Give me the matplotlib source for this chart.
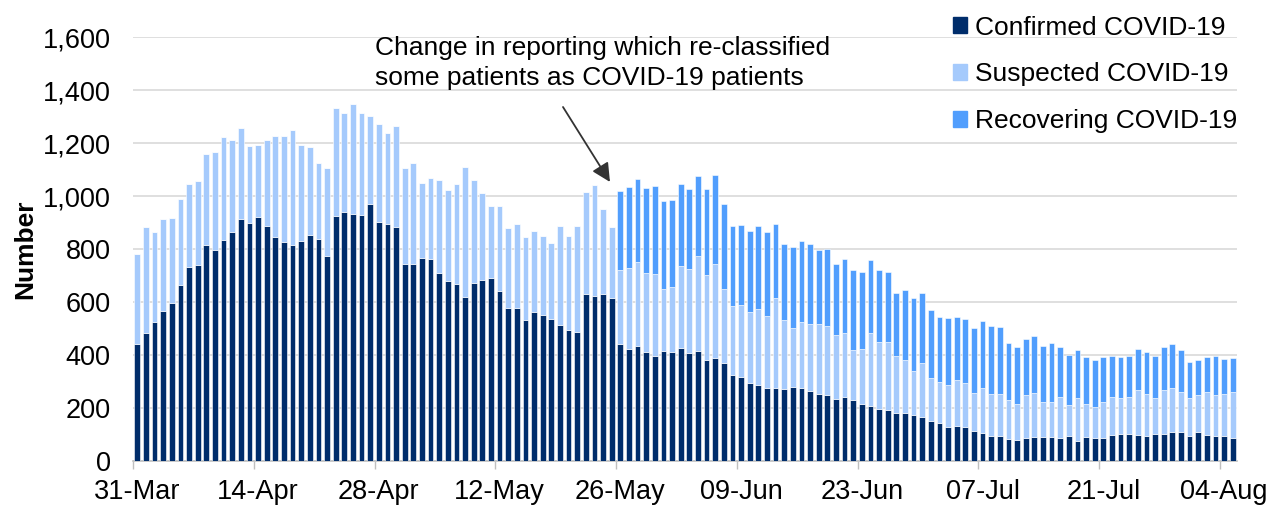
import matplotlib
matplotlib.use('Agg')
import matplotlib.pyplot as plt
import matplotlib.ticker as mticker
from matplotlib.patches import Patch
import numpy as np

plt.rcParams['font.family'] = ['Liberation Sans', 'DejaVu Sans']

# one bar per day, 31-Mar .. 05-Aug
TICK_LABELS = ['31-Mar', '14-Apr', '28-Apr', '12-May', '26-May',
               '09-Jun', '23-Jun', '07-Jul', '21-Jul', '04-Aug']

confirmed = [
    440, 483, 523, 566, 598, 665, 731, 740, 816, 795, 834, 866, 912, 899,
    921, 887, 844, 825, 816, 830, 852, 838, 775, 926, 941, 933, 930, 969,
    903, 896, 883, 745, 745, 765, 761, 710, 679, 667, 619, 672, 683, 692,
    640, 579, 579, 532, 562, 552, 536, 515, 493, 488, 632, 623, 632, 614,
    440, 424, 433, 410, 398, 415, 410, 428, 406, 414, 380, 389, 371, 323,
    316, 293, 288, 277, 277, 272, 281, 276, 263, 254, 250, 233, 242, 229,
    215, 206, 197, 194, 181, 181, 172, 167, 151, 142, 130, 133, 128, 112,
    107, 94, 94, 82, 78, 86, 91, 91, 91, 86, 94, 77, 91, 86,
    86, 99, 103, 103, 99, 94, 103, 103, 108, 108, 94, 108, 99, 94,
    94, 86]

suspected = [
    342, 399, 341, 346, 319, 325, 314, 315, 343, 372, 389, 344, 346, 290,
    273, 323, 384, 403, 433, 363, 332, 285, 332, 405, 374, 416, 385, 333,
    368, 341, 380, 362, 378, 285, 306, 352, 342, 378, 492, 390, 328, 272,
    324, 299, 317, 312, 307, 296, 285, 373, 355, 400, 384, 419, 320, 268,
    282, 303, 319, 300, 308, 233, 247, 307, 320, 360, 321, 354, 277, 261,
    271, 269, 287, 271, 337, 260, 220, 247, 255, 264, 259, 243, 241, 190,
    206, 277, 252, 255, 217, 199, 169, 204, 164, 155, 158, 173, 165, 146,
    168, 160, 160, 147, 137, 164, 167, 133, 133, 156, 117, 160, 124, 117,
    138, 143, 134, 139, 168, 160, 134, 164, 167, 151, 143, 142, 160, 156,
    160, 173]

recovering = [0] * 56 + [
    296, 307, 312, 319, 331, 333, 329, 310, 302, 303, 324, 338, 321, 302,
    304, 307, 311, 318, 282, 288, 308, 307, 302, 277, 291, 267, 278, 303,
    292, 277, 273, 264, 236, 264, 273, 264, 255, 248, 252, 239, 243, 243,
    252, 255, 252, 215, 216, 212, 212, 211, 220, 189, 190, 182, 177, 177,
    168, 155, 155, 155, 156, 156, 160, 164, 165, 160, 138, 130, 133, 147,
    131, 130]

C_CONF = '#002D6B'
C_SUSP = '#A5CAFC'
C_RECO = '#519EFD'

fig = plt.figure(figsize=(12.66, 5.05), dpi=100)
ax = fig.add_axes([133 / 1266, 44 / 505, 1104 / 1266, 424 / 505])

x = np.arange(len(confirmed))
conf = np.array(confirmed)
susp = np.array(suspected)
reco = np.array(recovering)
w = 0.68
ax.bar(x, conf, w, color=C_CONF, edgecolor='white', linewidth=0.4, zorder=3)
ax.bar(x, susp, w, bottom=conf, color=C_SUSP, edgecolor='white', linewidth=0.4, zorder=3)
ax.bar(x, reco, w, bottom=conf + susp, color=C_RECO, edgecolor='white', linewidth=0.4, zorder=3)

ax.set_xlim(-0.5, len(x) - 0.5)
ax.set_ylim(0, 1600)
ax.set_yticks(range(0, 1601, 200))
ax.yaxis.set_major_formatter(mticker.FuncFormatter(lambda v, p: f'{int(v):,}'))
ax.grid(axis='y', color='#D9D9D9', linewidth=1.2, zorder=0)
ax.set_axisbelow(True)

ax.set_xticks(np.arange(0, len(x), 14))
ax.set_xticklabels(TICK_LABELS)
ax.set_xticks(np.arange(-0.5, len(x), 14), minor=True)
ax.tick_params(axis='x', which='major', length=0, pad=13, labelsize=19.5)
ax.tick_params(axis='x', which='minor', length=6, color='#BFBFBF', width=1)
ax.tick_params(axis='y', length=0, pad=16, labelsize=19.5)

for s in ['top', 'right', 'left']:
    ax.spines[s].set_visible(False)
ax.spines['bottom'].set_color('#BFBFBF')
ax.spines['bottom'].set_linewidth(1.2)

ax.set_ylabel('Number', fontsize=19, fontweight='bold')
ax.yaxis.set_label_coords(-0.087, 0.5)

handles = [Patch(color=C_CONF, label='Confirmed COVID-19'),
           Patch(color=C_SUSP, label='Suspected COVID-19'),
           Patch(color=C_RECO, label='Recovering COVID-19')]
fig.legend(handles=handles, loc='upper left', bbox_to_anchor=(942 / 1266, 1 - 5 / 505),
           frameon=False, fontsize=19, handlelength=0.55, handleheight=0.55,
           handletextpad=0.3, labelspacing=0.86, borderaxespad=0)

fig.text(375 / 1266, 1 - 63 / 505,
         'Change in reporting which re-classified\nsome patients as COVID-19 patients',
         fontsize=19, ha='left', va='center', linespacing=1.3)

ax.annotate('', xy=(54.8, 1053), xycoords='data',
            xytext=(563, 505 - 107), textcoords='figure pixels',
            arrowprops=dict(arrowstyle='-|>', color='#333333', lw=1.3,
                            mutation_scale=28, shrinkA=0, shrinkB=0))

fig.savefig('out.png', dpi=100)
